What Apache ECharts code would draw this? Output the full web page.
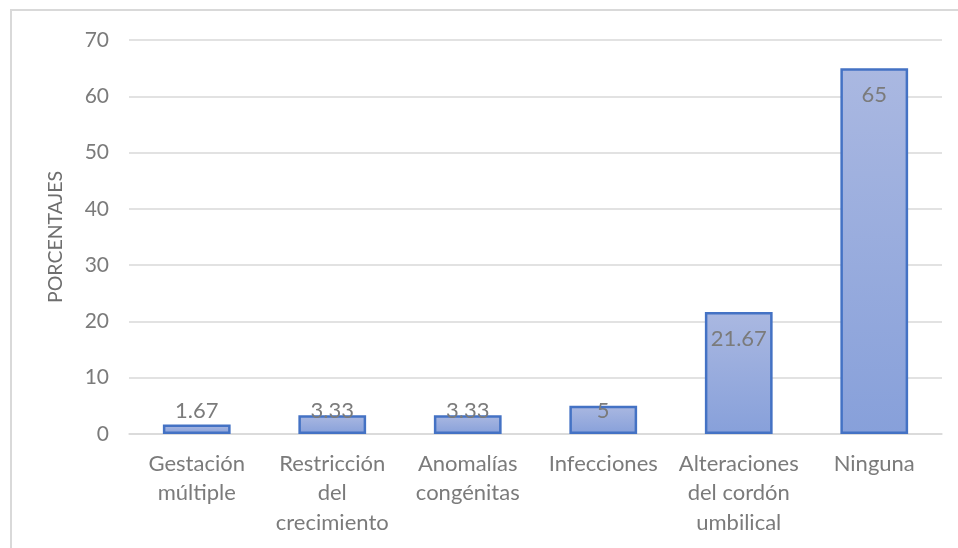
<!DOCTYPE html>
<html>
<head>
<meta charset="utf-8">
<script src="https://cdn.jsdelivr.net/npm/echarts@6/dist/echarts.min.js"></script>
<style>
  html, body { margin: 0; padding: 0; background: #ffffff; }
  #chart { width: 958px; height: 548px; }
</style>
</head>
<body>
<div id="chart"></div>
<script>
// Categories (line breaks as they wrap under the axis)
const categories = [
  'Gestación\nmúltiple',
  'Restricción\ndel\ncrecimiento',
  'Anomalías\ncongénitas',
  'Infecciones',
  'Alteraciones\ndel cordón\numbilical',
  'Ninguna'
];
// Percentages per category
const values = [1.67, 3.33, 3.33, 5, 21.67, 65];
// Y axis ticks
const yTicks = [0, 10, 20, 30, 40, 50, 60, 70];
const yAxisTitle = 'PORCENTAJES';

const FONT = 'Lato';
const GREY = '#7b7b7b';

const chart = echarts.init(document.getElementById('chart'), null, { renderer: 'canvas' });

// Short bars keep their value label just above the baseline, taller ones inside the top
const seriesData = values.map(v => ({
  value: v,
  label: v < 7
    ? { position: 'insideBottom', distance: 12 }
    : { position: 'insideTop', distance: 16 }
}));

chart.setOption({
  backgroundColor: '#ffffff',
  animation: false,
  graphic: [{
    type: 'rect',
    shape: { x: 11, y: 10, width: 960, height: 560 },
    style: { fill: 'none', stroke: '#d9d9d9', lineWidth: 2 },
    silent: true
  }],
  grid: { left: 129, right: 16, top: 40, bottom: 114 },
  xAxis: {
    type: 'category',
    data: categories,
    axisLine: { lineStyle: { color: '#d9d9d9', width: 1.5 } },
    axisTick: { show: false },
    axisLabel: {
      color: GREY, fontFamily: FONT, fontSize: 22, lineHeight: 29.5,
      margin: 15, interval: 0
    }
  },
  yAxis: {
    type: 'value',
    min: yTicks[0],
    max: yTicks[yTicks.length - 1],
    interval: yTicks[1] - yTicks[0],
    name: yAxisTitle,
    nameLocation: 'middle',
    nameGap: 63,
    nameRotate: 90,
    nameTextStyle: { color: '#6e6e6e', fontFamily: FONT, fontSize: 19.5 },
    axisLine: { show: false },
    axisTick: { show: false },
    axisLabel: { color: GREY, fontFamily: FONT, fontSize: 21, margin: 20 },
    splitLine: { lineStyle: { color: '#d9d9d9', width: 1.5 } }
  },
  series: [{
    type: 'bar',
    data: seriesData,
    barWidth: '50%',
    itemStyle: {
      color: new echarts.graphic.LinearGradient(0, 0, 0, 1, [
        { offset: 0, color: '#aab8e1' },
        { offset: 1, color: '#87a0da' }
      ]),
      borderColor: '#4472c4',
      borderWidth: 2.5
    },
    label: {
      show: true,
      color: '#7b7b7b',
      fontFamily: FONT,
      fontSize: 22
    }
  }]
});
</script>
</body>
</html>
